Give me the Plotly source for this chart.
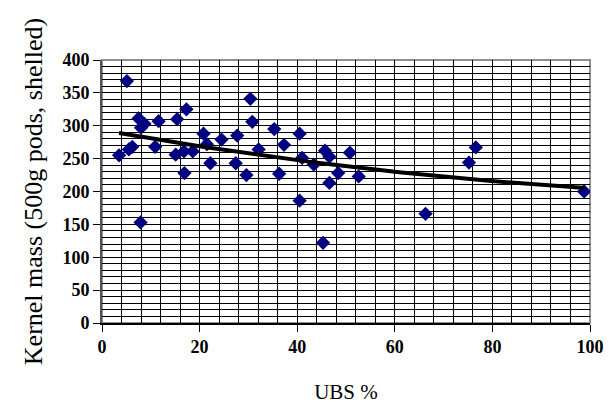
import numpy as np
import plotly.graph_objects as go

# UBS percentage of each sample and its shelled kernel mass (g per 500 g pods)
ubs_pct = [3.5, 5.1, 5.5, 6.2, 7.5, 8.0, 8.7, 7.9, 10.9, 11.6,
           15.1, 15.4, 17.3, 16.8, 18.6, 16.9, 20.8, 21.5, 22.2, 24.5,
           27.7, 27.4, 29.6, 30.4, 30.8, 32.1, 35.3, 37.3, 36.3, 40.5,
           41.0, 40.5, 43.4, 45.7, 46.6, 45.3, 46.6, 48.4, 50.8, 52.6,
           66.3, 75.2, 76.6, 98.8]
kernel_mass = [255, 368, 264, 268, 311, 297, 303, 153, 268, 307,
               256, 310, 325, 261, 261, 228, 288, 272, 243, 279,
               285, 243, 225, 341, 306, 264, 295, 271, 227, 288,
               251, 186, 241, 262, 253, 122, 213, 228, 259, 223,
               166, 244, 267, 200]

x_ticks = [0, 20, 40, 60, 80, 100]
y_ticks = [0, 50, 100, 150, 200, 250, 300, 350, 400]

# second-order polynomial trend through the samples
coef = np.polyfit(ubs_pct, kernel_mass, 2)
trend_x = np.linspace(min(ubs_pct), max(ubs_pct), 200)
trend_y = np.polyval(coef, trend_x)

fig = go.Figure()
fig.add_trace(go.Scatter(
    x=ubs_pct, y=kernel_mass, mode="markers",
    marker=dict(symbol="diamond", size=11, color="#000080",
                line=dict(width=0)),
    showlegend=False, hoverinfo="x+y"))
fig.add_trace(go.Scatter(
    x=trend_x, y=trend_y, mode="lines",
    line=dict(color="black", width=4),
    showlegend=False, hoverinfo="skip"))

serif = "Liberation Serif"
tick_font = dict(family=serif, size=18, color="black")

fig.update_layout(
    width=616, height=414,
    margin=dict(l=102, r=18, t=60, b=91),
    paper_bgcolor="white", plot_bgcolor="white",
    font=dict(family=serif, color="black"),
    xaxis=dict(
        range=[0, 100], tickvals=x_ticks,
        ticktext=[f"<b>{v}</b>" for v in x_ticks],
        tickfont=tick_font, ticks="outside", ticklen=7, tickcolor="black",
        showgrid=False, zeroline=False,
        showline=True, linecolor="black", linewidth=1.5,
        minor=dict(dtick=4, showgrid=True, gridcolor="black",
                   gridwidth=1, ticks=""),
        title=dict(text="UBS %", font=dict(family=serif, size=21),
                   standoff=28),
    ),
    yaxis=dict(
        range=[0, 400], tickvals=y_ticks,
        ticktext=[f"<b>{v}</b>" for v in y_ticks],
        tickfont=tick_font, ticks="outside", ticklen=7, tickcolor="black",
        showgrid=True, gridcolor="black", gridwidth=1, zeroline=False,
        showline=True, linecolor="#555555", linewidth=2,
        minor=dict(dtick=10, showgrid=True, gridcolor="black",
                   gridwidth=1, ticks=""),
        title=dict(text="Kernel mass (500g pods, shelled)",
                   font=dict(family=serif, size=26), standoff=12),
    ),
    shapes=[dict(type="rect", xref="x domain", yref="y domain",
                 x0=0, x1=1, y0=0, y1=1, layer="below",
                 line=dict(color="#909090", width=2))],
)

fig.write_html("out.html")
